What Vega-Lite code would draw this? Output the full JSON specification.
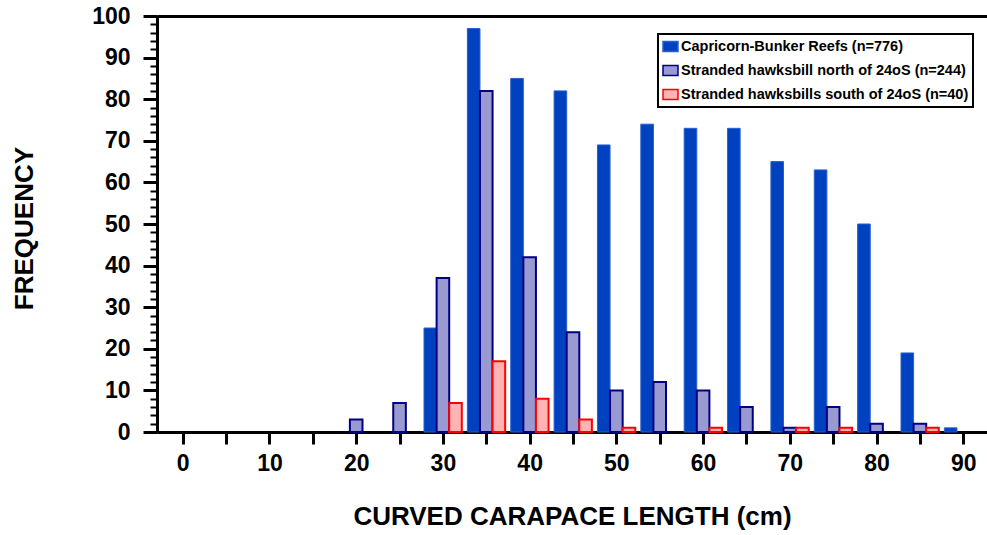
{
  "$schema": "https://vega.github.io/schema/vega-lite/v6.json",
  "width": 830,
  "height": 416,
  "autosize": {"type": "none"},
  "padding": {"left": 157, "top": 16, "right": 0, "bottom": 103},
  "background": "white",
  "config": {
    "view": {"stroke": null},
    "font": "Liberation Sans",
    "legend": {
      "strokeColor": "black",
      "strokeWidth": 2,
      "padding": 4,
      "cornerRadius": 0,
      "fillColor": "white",
      "symbolType": "M-1,-0.667H1V0.667H-1Z",
      "symbolSize": 225,
      "symbolStrokeWidth": 1.5,
      "labelFont": "Liberation Sans",
      "labelFontSize": 14.5,
      "labelFontWeight": "bold",
      "labelColor": "black",
      "labelOffset": 2,
      "labelLimit": 400,
      "rowPadding": 7
    }
  },
  "datasets": {
    "bars": [
      {"cm": 30, "series": "Capricorn-Bunker Reefs (n=776)", "freq": 25},
      {"cm": 35, "series": "Capricorn-Bunker Reefs (n=776)", "freq": 97},
      {"cm": 40, "series": "Capricorn-Bunker Reefs (n=776)", "freq": 85},
      {"cm": 45, "series": "Capricorn-Bunker Reefs (n=776)", "freq": 82},
      {"cm": 50, "series": "Capricorn-Bunker Reefs (n=776)", "freq": 69},
      {"cm": 55, "series": "Capricorn-Bunker Reefs (n=776)", "freq": 74},
      {"cm": 60, "series": "Capricorn-Bunker Reefs (n=776)", "freq": 73},
      {"cm": 65, "series": "Capricorn-Bunker Reefs (n=776)", "freq": 73},
      {"cm": 70, "series": "Capricorn-Bunker Reefs (n=776)", "freq": 65},
      {"cm": 75, "series": "Capricorn-Bunker Reefs (n=776)", "freq": 63},
      {"cm": 80, "series": "Capricorn-Bunker Reefs (n=776)", "freq": 50},
      {"cm": 85, "series": "Capricorn-Bunker Reefs (n=776)", "freq": 19},
      {"cm": 90, "series": "Capricorn-Bunker Reefs (n=776)", "freq": 1},
      {"cm": 20, "series": "Stranded hawksbill north of 24oS (n=244)", "freq": 3},
      {"cm": 25, "series": "Stranded hawksbill north of 24oS (n=244)", "freq": 7},
      {"cm": 30, "series": "Stranded hawksbill north of 24oS (n=244)", "freq": 37},
      {"cm": 35, "series": "Stranded hawksbill north of 24oS (n=244)", "freq": 82},
      {"cm": 40, "series": "Stranded hawksbill north of 24oS (n=244)", "freq": 42},
      {"cm": 45, "series": "Stranded hawksbill north of 24oS (n=244)", "freq": 24},
      {"cm": 50, "series": "Stranded hawksbill north of 24oS (n=244)", "freq": 10},
      {"cm": 55, "series": "Stranded hawksbill north of 24oS (n=244)", "freq": 12},
      {"cm": 60, "series": "Stranded hawksbill north of 24oS (n=244)", "freq": 10},
      {"cm": 65, "series": "Stranded hawksbill north of 24oS (n=244)", "freq": 6},
      {"cm": 70, "series": "Stranded hawksbill north of 24oS (n=244)", "freq": 1},
      {"cm": 75, "series": "Stranded hawksbill north of 24oS (n=244)", "freq": 6},
      {"cm": 80, "series": "Stranded hawksbill north of 24oS (n=244)", "freq": 2},
      {"cm": 85, "series": "Stranded hawksbill north of 24oS (n=244)", "freq": 2},
      {"cm": 30, "series": "Stranded hawksbills south of 24oS (n=40)", "freq": 7},
      {"cm": 35, "series": "Stranded hawksbills south of 24oS (n=40)", "freq": 17},
      {"cm": 40, "series": "Stranded hawksbills south of 24oS (n=40)", "freq": 8},
      {"cm": 45, "series": "Stranded hawksbills south of 24oS (n=40)", "freq": 3},
      {"cm": 50, "series": "Stranded hawksbills south of 24oS (n=40)", "freq": 1},
      {"cm": 60, "series": "Stranded hawksbills south of 24oS (n=40)", "freq": 1},
      {"cm": 70, "series": "Stranded hawksbills south of 24oS (n=40)", "freq": 1},
      {"cm": 75, "series": "Stranded hawksbills south of 24oS (n=40)", "freq": 1},
      {"cm": 85, "series": "Stranded hawksbills south of 24oS (n=40)", "freq": 1}
    ]
  },
  "data": {"name": "bars"},
  "encoding": {
    "fill": {
      "field": "series",
      "type": "nominal",
      "scale": {
        "domain": ["Capricorn-Bunker Reefs (n=776)", "Stranded hawksbill north of 24oS (n=244)", "Stranded hawksbills south of 24oS (n=40)"],
        "range": ["#0041bf", "#9a9ad2", "#ffb3b3"]
      },
      "legend": {"title": null, "orient": "none", "legendX": 501, "legendY": 18}
    },
    "stroke": {
      "field": "series",
      "type": "nominal",
      "scale": {
        "domain": ["Capricorn-Bunker Reefs (n=776)", "Stranded hawksbill north of 24oS (n=244)", "Stranded hawksbills south of 24oS (n=40)"],
        "range": ["#2a5fd0", "#000080", "#ff0000"]
      },
      "legend": {"title": null, "orient": "none", "legendX": 501, "legendY": 18}
    }
  },
  "layer": [
    {
      "transform": [{"filter": "datum.series === 'Capricorn-Bunker Reefs (n=776)'"}],
      "mark": {"type": "bar", "width": 12.6, "xOffset": -12.6, "strokeWidth": 1, "opacity": 1},
      "encoding": {
        "x": {
          "field": "cm", "type": "quantitative",
          "scale": {"domain": [-2.39, 92.16], "nice": false, "zero": false},
          "axis": {
            "orient": "bottom",
            "values": [0, 5, 10, 15, 20, 25, 30, 35, 40, 45, 50, 55, 60, 65, 70, 75, 80, 85, 90],
            "labelExpr": "datum.value % 10 === 0 ? datum.label : ''",
            "labelFont": "Liberation Sans", "labelFontSize": 23, "labelFontWeight": "bold", "labelColor": "black",
            "labelPadding": 8, "labelOverlap": false, "labelFlush": false,
            "tickSize": 12, "tickWidth": 3, "tickColor": "black",
            "domainColor": "black", "domainWidth": 3, "grid": false,
            "title": "CURVED CARAPACE LENGTH (cm)",
            "titleFont": "Liberation Sans", "titleFontSize": 26, "titleFontWeight": "bold", "titleColor": "black",
            "titleX": 415, "titleY": 92, "titleBaseline": "alphabetic", "titleAlign": "center"
          }
        },
        "y": {
          "field": "freq", "type": "quantitative",
          "scale": {"domain": [0, 100], "nice": false},
          "axis": {
            "orient": "left",
            "values": [0, 10, 20, 30, 40, 50, 60, 70, 80, 90, 100],
            "labelFont": "Liberation Sans", "labelFontSize": 23, "labelFontWeight": "bold", "labelColor": "black",
            "labelPadding": 13,
            "tickSize": 14, "tickWidth": 3, "tickColor": "black",
            "domainColor": "black", "domainWidth": 3, "grid": false,
            "title": "FREQUENCY",
            "titleFont": "Liberation Sans", "titleFontSize": 26, "titleFontWeight": "bold", "titleColor": "black",
            "titleAngle": 270, "titleX": -125, "titleY": 212, "titleAlign": "center", "titleBaseline": "alphabetic"
          }
        }
      }
    },
    {
      "transform": [{"filter": "datum.series === 'Stranded hawksbill north of 24oS (n=244)'"}],
      "mark": {"type": "bar", "width": 12.6, "xOffset": 0, "strokeWidth": 2, "opacity": 1},
      "encoding": {
        "x": {
          "field": "cm", "type": "quantitative",
          "scale": {"domain": [-2.39, 92.16], "nice": false, "zero": false},
          "axis": null
        },
        "y": {
          "field": "freq", "type": "quantitative",
          "scale": {"domain": [0, 100], "nice": false},
          "axis": {
            "orient": "left",
            "values": [0, 2, 4, 6, 8, 10, 12, 14, 16, 18, 20, 22, 24, 26, 28, 30, 32, 34, 36, 38, 40, 42, 44, 46, 48, 50, 52, 54, 56, 58, 60, 62, 64, 66, 68, 70, 72, 74, 76, 78, 80, 82, 84, 86, 88, 90, 92, 94, 96, 98, 100],
            "labels": false, "domain": false, "grid": false, "title": null,
            "tickSize": 7, "tickWidth": 2, "tickColor": "black"
          }
        }
      }
    },
    {
      "transform": [{"filter": "datum.series === 'Stranded hawksbills south of 24oS (n=40)'"}],
      "mark": {"type": "bar", "width": 12.6, "xOffset": 12.6, "strokeWidth": 2, "opacity": 1},
      "encoding": {
        "x": {
          "field": "cm", "type": "quantitative",
          "scale": {"domain": [-2.39, 92.16], "nice": false, "zero": false},
          "axis": {"orient": "top", "ticks": false, "labels": false, "domain": true, "domainWidth": 3, "domainColor": "black", "title": null, "grid": false}
        },
        "y": {
          "field": "freq", "type": "quantitative",
          "scale": {"domain": [0, 100], "nice": false},
          "axis": null
        }
      }
    }
  ],
  "resolve": {"axis": {"x": "independent", "y": "independent"}}
}
